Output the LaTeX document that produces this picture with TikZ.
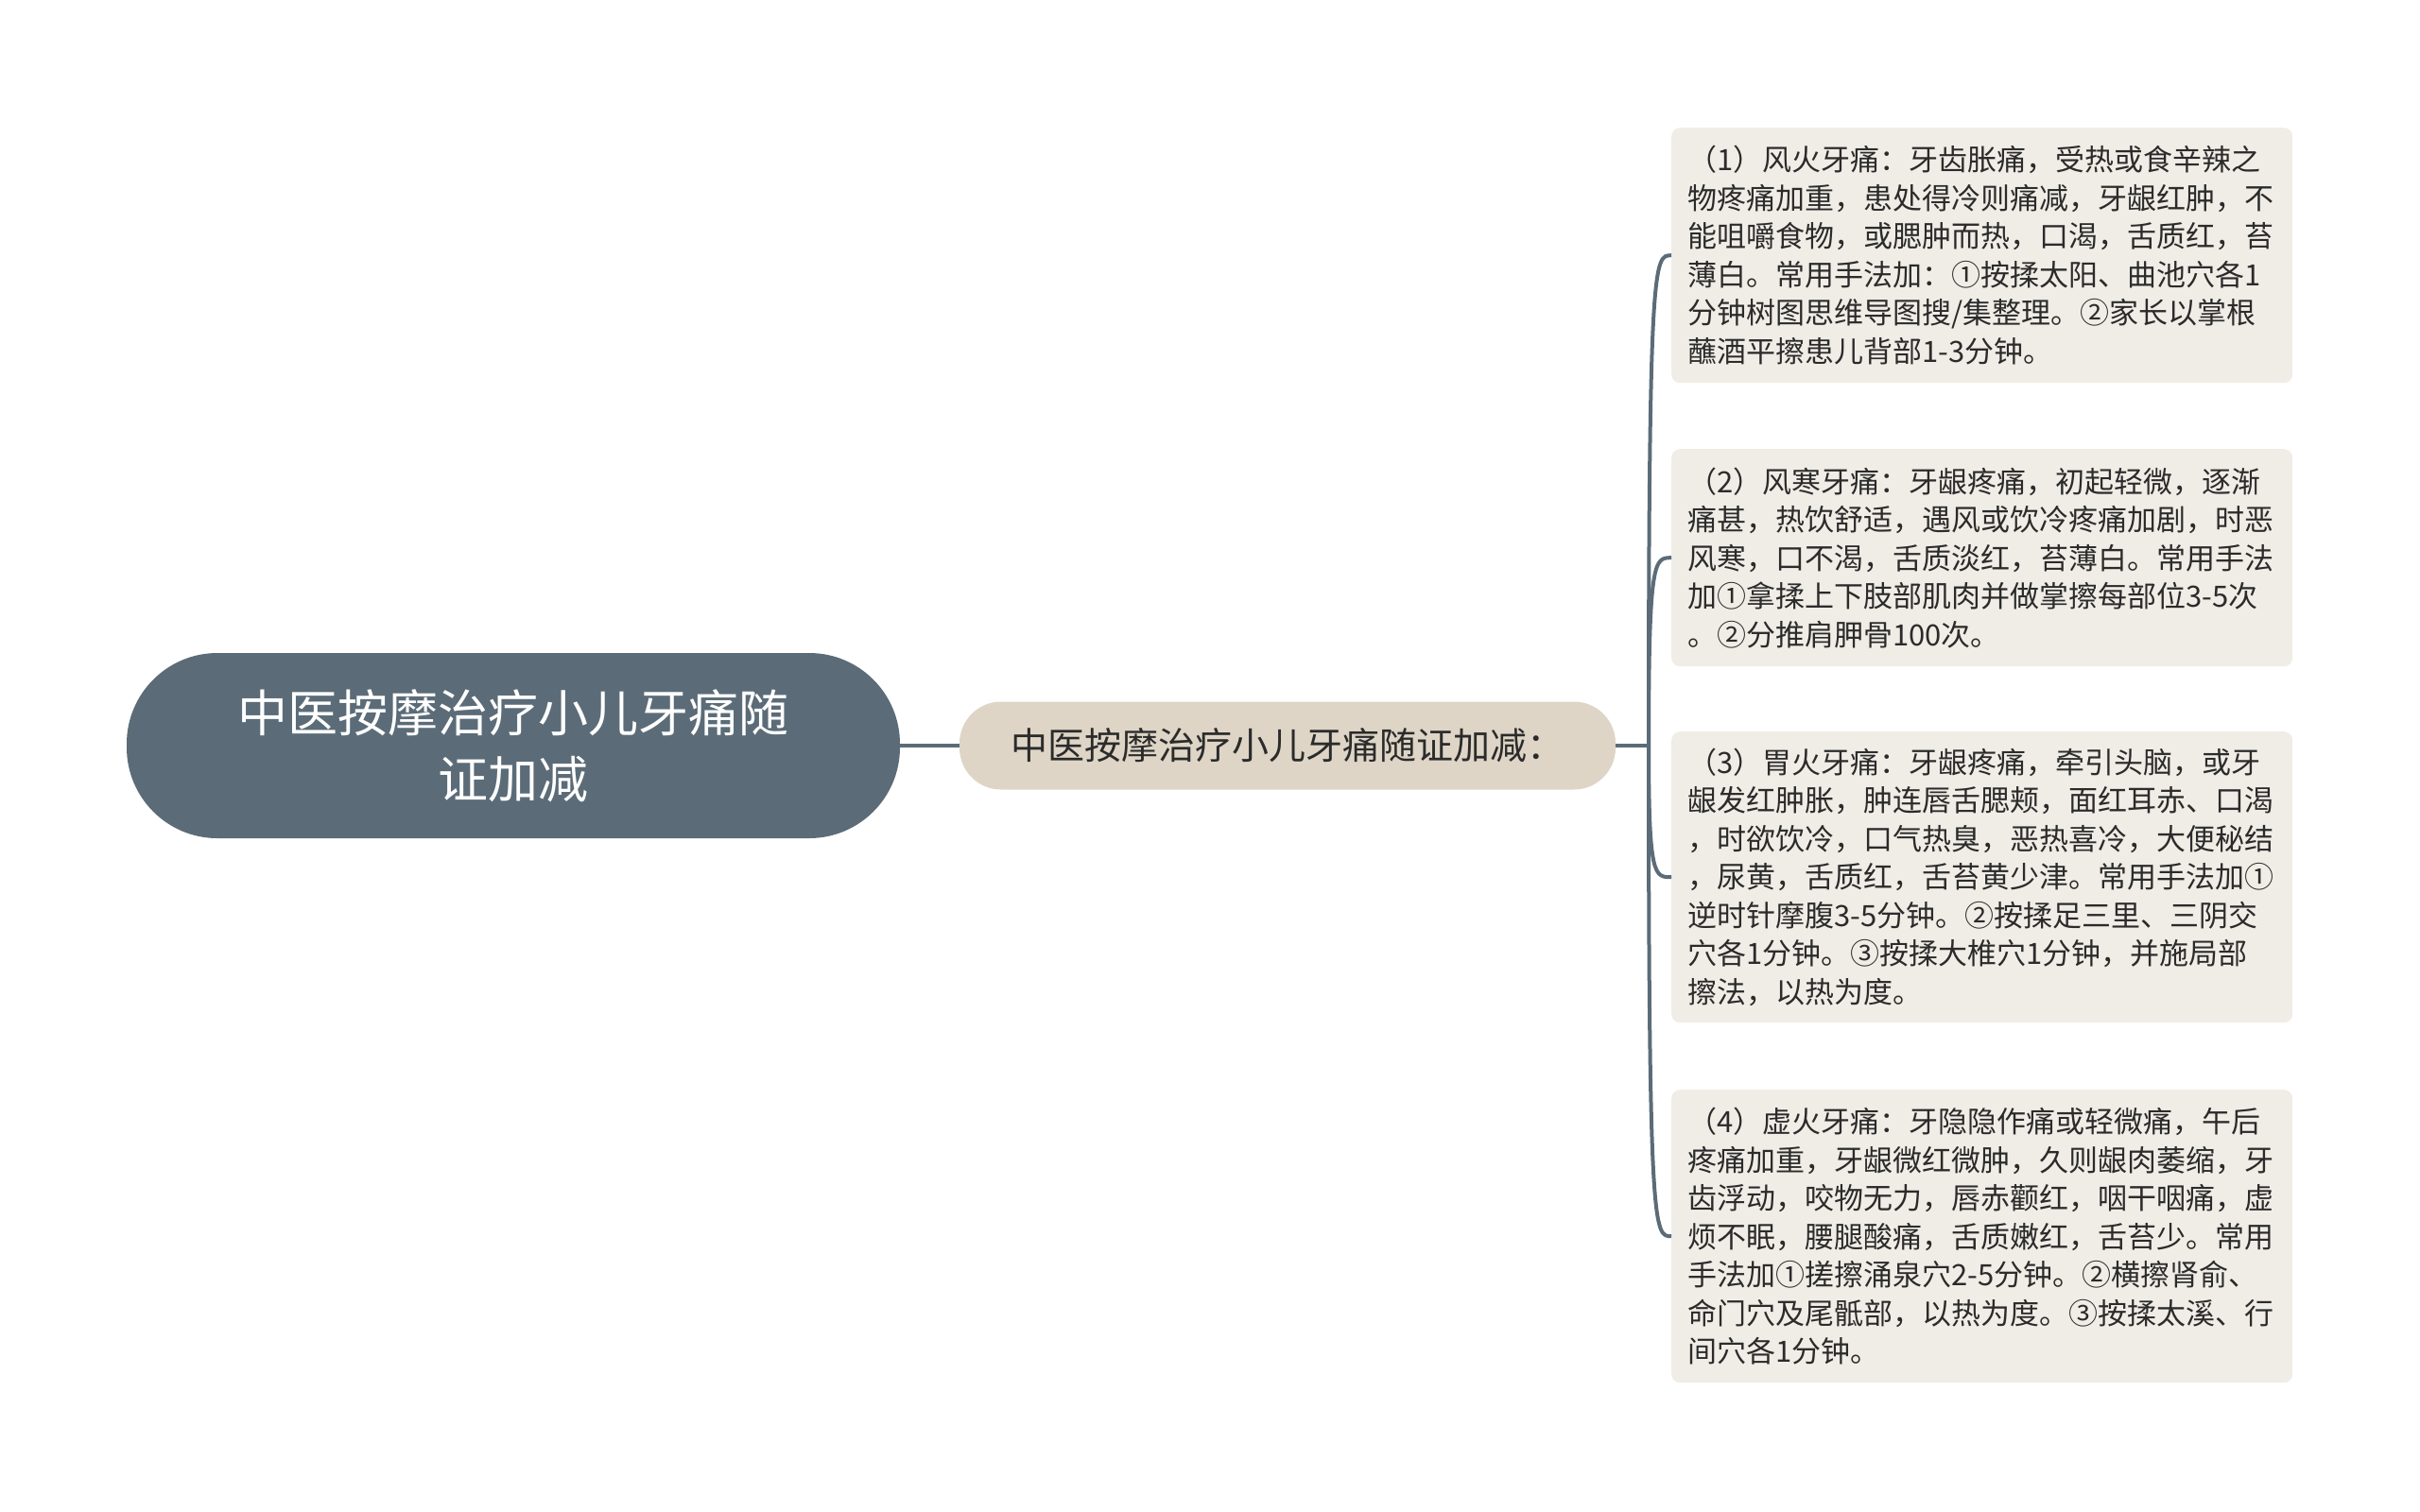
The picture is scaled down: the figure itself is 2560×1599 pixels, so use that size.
\documentclass[tikz,border=0pt]{standalone}
\usepackage{fontspec}
\newfontfamily\cjk{Noto Sans CJK SC}
\definecolor{rootc}{HTML}{5B6C78}
\definecolor{midc}{HTML}{DED5C6}
\definecolor{leafc}{HTML}{F0EDE6}
\definecolor{txtc}{HTML}{2B2B2B}
\definecolor{linec}{HTML}{5B6C78}
\tikzset{
  rootbox/.style={fill=rootc, rounded corners=96pt, minimum width=818pt, minimum height=196pt, align=center, text=white, font=\cjk\fontsize{53}{70}\selectfont, inner sep=0pt},
  midbox/.style={fill=midc, rounded corners=44pt, minimum width=694pt, minimum height=93pt, text=txtc, font=\cjk\fontsize{39}{46}\selectfont, inner sep=0pt},
  leafbox/.style={fill=leafc, rounded corners=9pt, text width=623pt, inner xsep=17pt, inner ysep=0pt, minimum width=657pt, align=left, text=txtc, font=\cjk\fontsize{31}{40.5}\selectfont, anchor=north west},
  conn/.style={draw=linec, line width=4pt}
}
\begin{document}
\begin{tikzpicture}[x=1pt,y=-1pt]
\useasboundingbox (0,0) rectangle (2560,1599);
\node[rootbox] (root) at (543,789) {中医按摩治疗小儿牙痛随\\证加减};
\node[midbox] (mid) at (1362,789) {中医按摩治疗小儿牙痛随证加减：};
\node[leafbox, minimum height=270pt] (l1) at (1768,135) {（1）风火牙痛：牙齿胀痛，受热或食辛辣之\\物疼痛加重，患处得冷则痛减，牙龈红肿，不\\能咀嚼食物，或腮肿而热，口渴，舌质红，苔\\薄白。常用手法加：①按揉太阳、曲池穴各1\\分钟树图思维导图搜/集整理。②家长以掌根\\蘸酒平擦患儿背部1-3分钟。};
\node[leafbox, minimum height=230pt] (l2) at (1768,475) {（2）风寒牙痛：牙龈疼痛，初起轻微，逐渐\\痛甚，热饮舒适，遇风或饮冷疼痛加剧，时恶\\风寒，口不渴，舌质淡红，苔薄白。常用手法\\加①拿揉上下肢部肌肉并做掌擦每部位3-5次\\。②分推肩胛骨100次。};
\node[leafbox, minimum height=308pt] (l3) at (1768,774) {（3）胃火牙痛：牙龈疼痛，牵引头脑，或牙\\龈发红肿胀，肿连唇舌腮颊，面红耳赤、口渴\\，时欲饮冷，口气热臭，恶热喜冷，大便秘结\\，尿黄，舌质红，舌苔黄少津。常用手法加①\\逆时针摩腹3-5分钟。②按揉足三里、三阴交\\穴各1分钟。③按揉大椎穴1分钟，并施局部\\擦法，以热为度。};
\node[leafbox, minimum height=310pt] (l4) at (1768,1153) {（4）虚火牙痛：牙隐隐作痛或轻微痛，午后\\疼痛加重，牙龈微红微肿，久则龈肉萎缩，牙\\齿浮动，咬物无力，唇赤颧红，咽干咽痛，虚\\烦不眠，腰腿酸痛，舌质嫩红，舌苔少。常用\\手法加①搓擦涌泉穴2-5分钟。②横擦肾俞、\\命门穴及尾骶部，以热为度。③按揉太溪、行\\间穴各1分钟。};
\coordinate (trunk) at (1744,789);
\draw[conn] (root.east) -- (mid.west);
\draw[conn] (mid.east) -- (trunk);
\foreach \n in {l1,l2,l3,l4}{
  \draw[conn] (trunk) .. controls (trunk |- \n.west) and ([xshift=-18pt]\n.west) .. (\n.west);
}
\end{tikzpicture}
\end{document}
